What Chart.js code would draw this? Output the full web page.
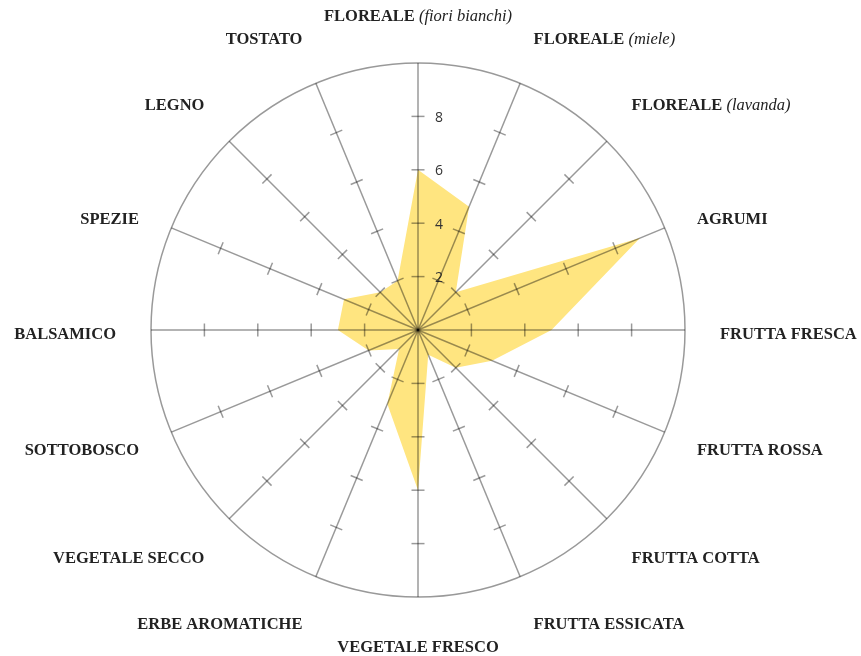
<!DOCTYPE html>
<html>
<head>
<meta charset="utf-8">
<script src="https://cdn.jsdelivr.net/npm/chart.js@4/dist/chart.umd.min.js"></script>
<style>
html,body{margin:0;padding:0;background:#fff;}
#wrap{width:861px;height:656px;}
</style>
</head>
<body>
<div id="wrap"><canvas id="c" width="861" height="656"></canvas></div>
<script>
// ---- data ----
const categories = ['FLOREALE','FLOREALE','FLOREALE','AGRUMI','FRUTTA FRESCA','FRUTTA ROSSA','FRUTTA COTTA','FRUTTA ESSICATA','VEGETALE FRESCO','ERBE AROMATICHE','VEGETALE SECCO','SOTTOBOSCO','BALSAMICO','SPEZIE','LEGNO','TOSTATO'];
const qualifiers = ['fiori bianchi','miele','lavanda','','','','','','','','','','','','',''];
const values = [6,5,2,9,5,3,2,1,6,3,1,2,3,3,2,2];
const scaleMin = 0;
const scaleMax = 10;
const tickStep = 2;

const LINE = 'rgba(0,0,0,0.4)';

const decor = {
  id: 'decor',
  afterDatasetsDraw(chart) {
    const s = chart.scales.r;
    const ctx = chart.ctx;
    ctx.save();
    // small tick marks across each spoke
    ctx.strokeStyle = LINE;
    ctx.lineWidth = 1.5;
    const inner = s.ticks.filter(t => t.value > scaleMin && t.value < scaleMax);
    for (let i = 0; i < categories.length; i++) {
      const a = s.getIndexAngle(i);
      const px = Math.cos(a), py = Math.sin(a);
      inner.forEach(t => {
        const p = s.getPointPositionForValue(i, t.value);
        ctx.beginPath();
        ctx.moveTo(p.x - px * 6.5, p.y - py * 6.5);
        ctx.lineTo(p.x + px * 6.5, p.y + py * 6.5);
        ctx.stroke();
      });
    }
    // tick labels on the top spoke
    ctx.fillStyle = '#333';
    ctx.font = '14px "Open Sans"';
    ctx.textAlign = 'center';
    ctx.textBaseline = 'middle';
    inner.forEach(t => {
      const d = s.getDistanceFromCenterForValue(t.value);
      ctx.fillText(String(t.value), s.xCenter + 21, s.yCenter - d + 1.5);
    });
    // point labels
    const bold = 'bold 16.5px "Liberation Serif"';
    const ital = 'italic 16.5px "Liberation Serif"';
    ctx.fillStyle = '#222';
    ctx.textAlign = 'left';
    for (let i = 0; i < categories.length; i++) {
      const a = s.getIndexAngle(i);
      const sn = Math.sin(a), cs = Math.cos(a);
      const p = s.getPointPosition(i, s.drawingArea + 35);
      const main = categories[i];
      const q = qualifiers[i] ? ' (' + qualifiers[i] + ')' : '';
      ctx.font = bold;
      const w1 = ctx.measureText(main).width;
      ctx.font = ital;
      const w2 = q ? ctx.measureText(q).width : 0;
      const w = w1 + w2;
      let x;
      if (Math.abs(sn) < 0.01) x = p.x - w / 2;
      else if (sn > 0) x = p.x;
      else x = p.x - w;
      let y = p.y + (cs > 0.6 ? -11 : (cs < -0.6 ? 15.5 : 5));
      ctx.font = bold;
      ctx.fillText(main, x, y);
      if (q) { ctx.font = ital; ctx.fillText(q, x + w1, y); }
    }
    ctx.restore();
  }
};

new Chart(document.getElementById('c'), {
  type: 'radar',
  data: {
    labels: categories.map((c, i) => qualifiers[i] ? c + ' (' + qualifiers[i] + ')' : c),
    datasets: [{
      data: values,
      backgroundColor: 'rgb(255,229,128)',
      borderWidth: 0,
      pointRadius: 0,
      pointHoverRadius: 0,
      fill: true
    }]
  },
  options: {
    responsive: false,
    animation: false,
    devicePixelRatio: 1,
    layout: { padding: { top: 63, bottom: 59, left: 151, right: 176 } },
    plugins: { legend: { display: false }, tooltip: { enabled: false } },
    scales: {
      r: {
        min: scaleMin,
        max: scaleMax,
        ticks: { stepSize: tickStep, display: false },
        pointLabels: { display: false },
        grid: {
          circular: true,
          z: 1,
          lineWidth: 1.5,
          color: c => (c.tick && c.tick.value === scaleMax) ? LINE : 'rgba(0,0,0,0)'
        },
        angleLines: { color: LINE, lineWidth: 1.5 }
      }
    }
  },
  plugins: [decor]
});
</script>
</body>
</html>
